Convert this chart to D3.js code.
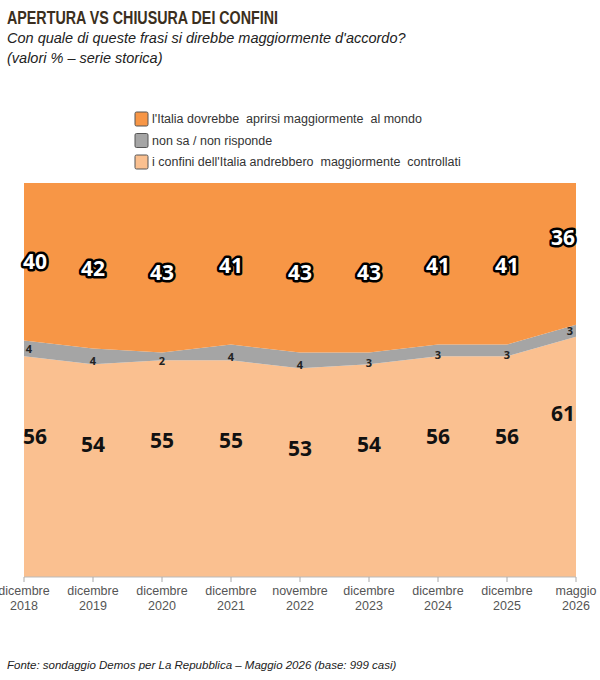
<!DOCTYPE html>
<html>
<head>
<meta charset="utf-8">
<script src="https://cdn.jsdelivr.net/npm/d3@7"></script>
<style>
  body { margin: 0; background: #fff; }
  svg text { white-space: pre; }
</style>
</head>
<body>
<div id="chart"></div>
<script>
    // -------------------------------
    // Data
    // -------------------------------
    const months = ['dicembre', 'dicembre', 'dicembre', 'dicembre', 'novembre', 'dicembre', 'dicembre', 'dicembre', 'maggio'];
    const years = ['2018', '2019', '2020', '2021', '2022', '2023', '2024', '2025', '2026'];
    const aprirsi = [40, 42, 43, 41, 43, 43, 41, 41, 36];
    const nonSa = [4, 4, 2, 4, 4, 3, 3, 3, 3];
    const controllati = [56, 54, 55, 55, 53, 54, 56, 56, 61];

    const seriesKeys = ['controllati', 'nonSa', 'aprirsi'];
    const colors = { aprirsi: '#f79646', nonSa: '#a5a5a5', controllati: '#fac090' };
    const legendItems = [
      ['aprirsi', "l'Italia dovrebbe  aprirsi maggiormente  al mondo"],
      ['nonSa', 'non sa / non risponde'],
      ['controllati', "i confini dell'Italia andrebbero  maggiormente  controllati"]
    ];

    const rows = years.map((y, i) => ({
      i, aprirsi: aprirsi[i], nonSa: nonSa[i], controllati: controllati[i]
    }));

    // -------------------------------
    // Layout
    // -------------------------------
    const W = 600, H = 680;
    const plot = { left: 24, right: 576, top: 183, bottom: 577 };

    const svg = d3.select('#chart').append('svg')
      .attr('width', W).attr('height', H);

    const x = d3.scalePoint().domain(d3.range(years.length)).range([plot.left, plot.right]);
    const y = d3.scaleLinear().domain([0, 100]).range([plot.bottom, plot.top]);

    // Titles
    svg.append('text').attr('x', 7).attr('y', 24)
      .attr('textLength', 271).attr('lengthAdjust', 'spacingAndGlyphs')
      .style('font-family', '"Liberation Sans", Arial, sans-serif')
      .style('font-weight', 'bold').style('font-size', '18px').style('fill', '#3b2f20')
      .text('APERTURA VS CHIUSURA DEI CONFINI');
    svg.append('text').attr('x', 7).attr('y', 43)
      .style('font-family', '"Liberation Sans", Arial, sans-serif')
      .style('font-style', 'italic').style('font-size', '14.5px').style('fill', '#222')
      .text("Con quale di queste frasi si direbbe maggiormente d'accordo?");
    svg.append('text').attr('x', 7).attr('y', 63)
      .style('font-family', '"Liberation Sans", Arial, sans-serif')
      .style('font-style', 'italic').style('font-size', '14.5px').style('fill', '#222')
      .text('(valori % – serie storica)');

    // Legend
    const legend = svg.append('g');
    legendItems.forEach(([key, label], k) => {
      const ly = 112 + k * 21.5;
      legend.append('rect').attr('x', 135).attr('y', ly).attr('width', 13).attr('height', 14)
        .attr('rx', 1.5).style('fill', colors[key]).style('stroke', '#555').style('stroke-width', 1);
      legend.append('text').attr('x', 152).attr('y', ly + 11)
        .style('font-family', '"Liberation Sans", Arial, sans-serif')
        .style('font-size', '12.5px').style('fill', '#333')
        .text(label);
    });

    // -------------------------------
    // Stacked areas
    // -------------------------------
    const stacked = d3.stack().keys(seriesKeys)(rows);
    const area = d3.area()
      .x(d => x(d.data.i))
      .y0(d => y(d[0]))
      .y1(d => y(d[1]));

    svg.selectAll('.layer')
      .data(stacked)
      .enter().append('path')
        .attr('class', 'layer')
        .attr('d', area)
        .style('fill', d => colors[d.key]);

    // -------------------------------
    // Axis
    // -------------------------------
    const axis = svg.append('g');
    axis.append('line').attr('x1', plot.left).attr('x2', plot.right)
      .attr('y1', plot.bottom).attr('y2', plot.bottom).style('stroke', '#bbb');
    years.forEach((yr, i) => {
      axis.append('line').attr('x1', x(i)).attr('x2', x(i))
        .attr('y1', plot.bottom).attr('y2', plot.bottom + 5).style('stroke', '#aaa');
      const t = axis.append('text').attr('text-anchor', 'middle')
        .style('font-family', '"Liberation Sans", Arial, sans-serif')
        .style('font-size', '12.5px').style('fill', '#555');
      t.append('tspan').attr('x', x(i)).attr('y', plot.bottom + 18).text(months[i]);
      t.append('tspan').attr('x', x(i)).attr('y', plot.bottom + 33).text(yr);
    });

    // -------------------------------
    // Labels
    // -------------------------------
    const last = years.length - 1;
    const labelX = i => i === 0 ? x(i) + 11 : (i === last ? x(i) - 13 : x(i));

    // open to the world: white with dark outline, 80px above the gray band
    svg.selectAll('.lab-open')
      .data(rows).enter().append('text')
        .attr('class', 'lab-open')
        .attr('x', d => labelX(d.i))
        .attr('y', d => y(d.controllati + d.nonSa) - 80 + (d.i === last ? -8 : 0))
        .attr('text-anchor', 'middle').attr('dominant-baseline', 'central')
        .style('font-family', '"Open Sans", "DejaVu Sans", sans-serif')
        .style('font-weight', 'bold').style('font-size', '21px')
        .style('fill', '#fff').style('stroke', '#000').style('stroke-width', 5)
        .style('stroke-linejoin', 'round').style('paint-order', 'stroke')
        .text(d => d.aprirsi);

    // don't know: small labels in the gray band
    svg.selectAll('.lab-ns')
      .data(rows).enter().append('text')
        .attr('class', 'lab-ns')
        .attr('x', d => d.i === 0 ? x(d.i) + 5 : (d.i === last ? x(d.i) - 6 : x(d.i)))
        .attr('y', d => y(d.controllati + d.nonSa / 2) + (d.i === 0 || d.i === last ? 0 : 4))
        .attr('text-anchor', 'middle').attr('dominant-baseline', 'central')
        .style('font-family', '"Open Sans", "DejaVu Sans", sans-serif')
        .style('font-weight', 'bold').style('font-size', '11px').style('fill', '#222')
        .text(d => d.nonSa);

    // controlled borders: black, 80px below the gray band
    svg.selectAll('.lab-ctrl')
      .data(rows).enter().append('text')
        .attr('class', 'lab-ctrl')
        .attr('x', d => labelX(d.i))
        .attr('y', d => y(d.controllati) + 80 + (d.i === last ? -4 : 0))
        .attr('text-anchor', 'middle').attr('dominant-baseline', 'central')
        .style('font-family', '"Open Sans", "DejaVu Sans", sans-serif')
        .style('font-weight', 'bold').style('font-size', '21px').style('fill', '#111')
        .text(d => d.controllati);

    // Footer
    svg.append('text').attr('x', 7).attr('y', 669)
      .style('font-family', '"Liberation Sans", Arial, sans-serif')
      .style('font-style', 'italic').style('font-size', '11.5px').style('fill', '#222')
      .text('Fonte: sondaggio Demos per La Repubblica – Maggio 2026 (base: 999 casi)');
</script>
</body>
</html>
